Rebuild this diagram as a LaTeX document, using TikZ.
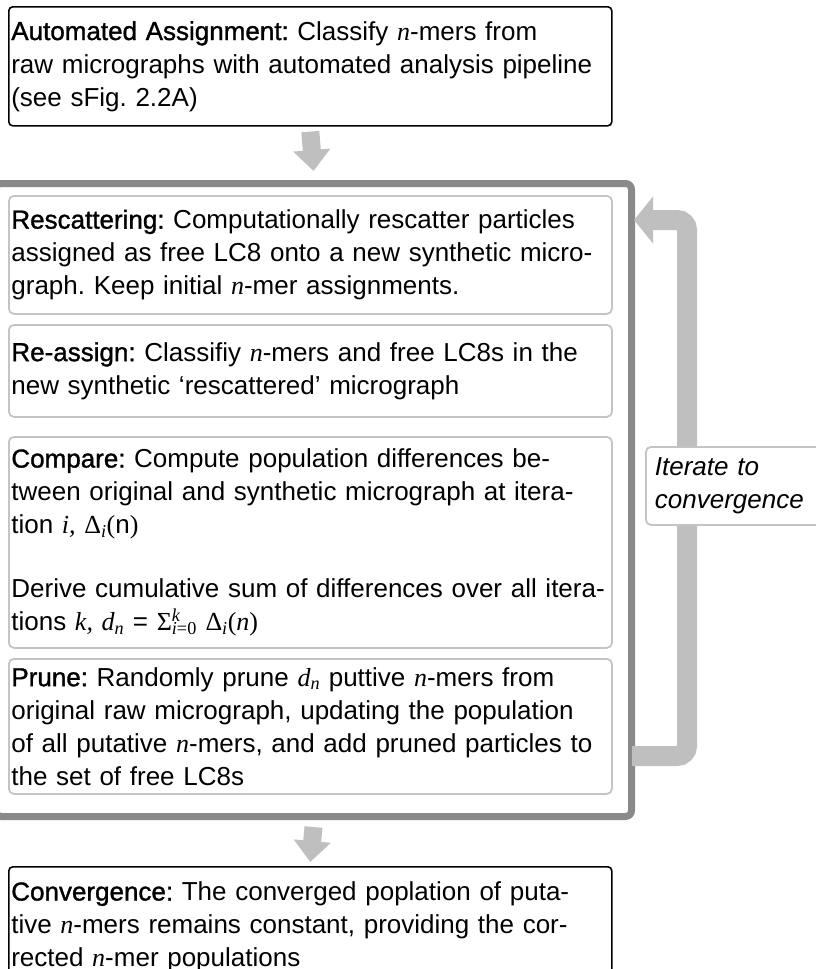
\documentclass[tikz,border=0pt]{standalone}
\usepackage{fontspec}
\setmainfont{Liberation Sans}
\newfontfamily\headfont[FakeBold=1.2]{Liberation Sans}
\newfontfamily\tmsfont{Liberation Serif}
\usetikzlibrary{positioning,arrows.meta}
\definecolor{framegray}{HTML}{8A8A8A}
\definecolor{arrowgray}{HTML}{BFBFBF}
\definecolor{boxgray}{HTML}{C4C4C4}
\newcommand\lbl[1]{{\headfont #1}}
\newcommand\nv{{\tmsfont\itshape n}}
\newcommand\iv[1]{{\tmsfont\itshape #1}}
\newcommand\Dlt[1]{{\tmsfont Δ}\textsubscript{\iv{i}}{\tmsfont (}#1{\tmsfont )}}
\frenchspacing

\begin{document}
\begin{tikzpicture}[x=1pt,y=-1pt,
      every node/.style={font=\fontsize{26}{33}\selectfont},
      stepbox/.style={draw=black, line width=1.6pt, rounded corners=4pt,
        anchor=north west, align=left, text width=598pt, inner xsep=2.5pt},
      innerbox/.style={stepbox, draw=boxgray, line width=1.8pt, rounded corners=5pt},
      framebox/.style={draw=framegray, line width=7pt, rounded corners=6pt,
        anchor=north west, inner sep=0pt},
      notebox/.style={draw=boxgray, fill=white, line width=1.8pt, rounded corners=5pt,
        anchor=north west, align=left, text width=160pt, inner xsep=9pt,
        font=\fontsize{26}{33}\selectfont\itshape},
      flow/.style={draw=arrowgray, line width=18pt,
        -{Triangle[length=21pt,width=36pt]}},
      loopflow/.style={draw=arrowgray, line width=20pt, rounded corners=10pt,
        -{Triangle[length=19pt,width=46pt]}}]
  \useasboundingbox (0,0) rectangle (816,969);
  %.
  \node[stepbox, minimum height=119pt] (auto) at (8,6)
    {\lbl{Automated Assignment:} Classify \nv-mers from\\
     raw micrographs with automated analysis pipeline\\
     (see sFig. 2.2A)};
  \node[framebox, minimum width=636pt, minimum height=633pt] (loop) at (-8,180) {};
  \node[innerbox, minimum height=118pt] (rescatter) at (8,195)
    {\lbl{Rescattering:} Computationally rescatter particles\\
     assigned as free LC8 onto a new synthetic micro-\\
     graph. Keep initial \nv-mer assignments.};
  \node[innerbox, minimum height=92pt] (reassign) at (8,324)
    {\lbl{Re-assign:} Classifiy \nv-mers and free LC8s in the\\
     new synthetic ‘rescattered’ micrograph};
  \node[innerbox, minimum height=211pt] (compare) at (8,436)
    {\lbl{Compare:} Compute population differences be-\\
     tween original and synthetic micrograph at itera-\\
     tion \iv{i,} \Dlt{n}\\[31pt]
     Derive cumulative sum of differences over all itera-\\
     tions \iv{k,} \iv{d}\textsubscript{\iv{n}} = {\tmsfont Σ}\rlap{\textsuperscript{\iv{k}}}\textsubscript{\iv{i}{\tmsfont =0}} \Dlt{\iv{n}}};
  \node[innerbox, minimum height=135pt] (prune) at (8,658)
    {\lbl{Prune:} Randomly prune \iv{d}\textsubscript{\iv{n}} puttive \nv-mers from\\
     original raw micrograph, updating the population\\
     of all putative \nv-mers, and add pruned particles to\\
     the set of free LC8s};
  \node[stepbox, minimum height=120pt] (converge) at (8,866)
    {\lbl{Convergence:} The converged poplation of puta-\\
     tive \nv-mers remains constant, providing the cor-\\
     rected \nv-mer populations};
  %.
  \draw[flow] ([yshift=-5pt]auto.south) -- ([yshift=9pt]loop.north);
  \draw[flow] ([yshift=-7pt]loop.south) -- ([yshift=4pt]converge.north);
  \coordinate (loopout) at (632,756);
  \coordinate (loopturn) at (687,220);
  \coordinate (loopin) at (634,220);
  \draw[loopflow] (loopout) -| (loopturn) -- (loopin);
  \node[notebox, minimum height=78pt] (iterate) at (645,446)
    {Iterate to\\convergence};
  %.
\end{tikzpicture}
\end{document}
